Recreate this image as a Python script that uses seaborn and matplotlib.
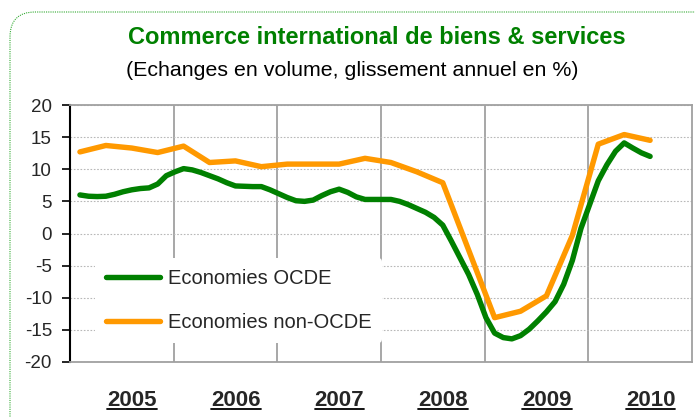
import numpy as np
import pandas as pd
import matplotlib
matplotlib.use("Agg")
import matplotlib.pyplot as plt
import seaborn as sns
from matplotlib import font_manager
from matplotlib.patches import FancyBboxPatch
from matplotlib.lines import Line2D

# ================= données =================
# OCDE : série mensuelle, de fév. 2005 à août 2010
ocde = [6.0, 5.8, 5.75, 5.8, 6.1, 6.5, 6.8, 7.0, 7.1, 7.7, 9.0, 9.6,
        10.1, 9.9, 9.5, 9.0, 8.5, 7.9, 7.4, 7.35, 7.3, 7.3, 6.8, 6.2,
        5.6, 5.1, 5.0, 5.2, 5.9, 6.5, 6.9, 6.4, 5.7, 5.3, 5.3, 5.3,
        5.3, 5.0, 4.5, 3.9, 3.3, 2.5, 1.3, -1.2, -3.8, -6.4, -9.5, -13.1,
        -15.5, -16.2, -16.4, -15.9, -14.9, -13.6, -12.2, -10.6, -7.9, -4.2, 0.8, 4.5,
        8.2, 10.7, 12.8, 14.1, 13.3, 12.55, 12.0]
# hors OCDE : série trimestrielle
non_ocde = [12.7, 13.7, 13.3, 12.6, 13.6, 11.05, 11.3, 10.4, 10.8, 10.8,
            10.8, 11.7, 11.05, 9.6, 7.9, -2.6, -13.1, -12.1, -9.7, -0.3,
            13.9, 15.4, 14.5]
annees = ["2005", "2006", "2007", "2008", "2009", "2010"]
# ===================================================================

x_ocde = [2005 + (m + 1.15) / 12 for m in range(len(ocde))]
x_non = [2005 + (3 * k + 1.15) / 12 for k in range(len(non_ocde))]

df = pd.concat([
    pd.DataFrame({"x": x_ocde, "val": ocde, "serie": "Economies OCDE"}),
    pd.DataFrame({"x": x_non, "val": non_ocde, "serie": "Economies non-OCDE"}),
])

sns.set_style("white")
plt.rcParams["font.family"] = ["Liberation Sans", "DejaVu Sans"]
plt.rcParams["axes.unicode_minus"] = False

# police étroite pour les années, si dispo
try:
    font_manager.findfont(font_manager.FontProperties(family="Liberation Sans Narrow", weight="bold"),
                          fallback_to_default=False)
    narrow = True
except Exception:
    narrow = False
an_family = "Liberation Sans Narrow" if narrow else "Liberation Sans"
an_size = 18.5 if narrow else 16

W, H = 695, 417
fig = plt.figure(figsize=(W / 100, H / 100), dpi=100)
ax = fig.add_axes([70 / W, 1 - 362 / H, 622 / W, 257 / H])

# cadre arrondi vert pointillé (en pouces)
cadre = FancyBboxPatch((0.10, -0.3), 7.5, (H - 12) / 100 + 0.3,
                       boxstyle="round,pad=0,rounding_size=0.25",
                       transform=fig.dpi_scale_trans, fill=False,
                       edgecolor="#33aa33", linewidth=0.8, linestyle=(0, (1, 1)))
fig.patches.append(cadre)

sns.lineplot(data=df, x="x", y="val", hue="serie",
             palette={"Economies OCDE": "#008000", "Economies non-OCDE": "#FF9900"},
             linewidth=3.9, ax=ax, zorder=3)

ax.set_xlim(2005, 2011)
ax.set_ylim(-20, 20)
ax.set_yticks(range(-20, 25, 5))
ax.set_xticks([int(a) + 0.6 for a in annees])
ax.set_xticklabels(annees)
ax.set_xticks(range(2006, 2011), minor=True)
ax.set_xlabel("")
ax.set_ylabel("")

ax.grid(axis="y", which="major", color="#b8b8b8", linestyle=(0, (1.5, 1.5)), linewidth=0.8)
ax.grid(axis="x", which="minor", color="#a0a0a0", linestyle="-", linewidth=1.3)
ax.grid(axis="x", which="major", visible=False)

for s in ["top", "right", "bottom"]:
    ax.spines[s].set_color("#a0a0a0")
    ax.spines[s].set_linewidth(1.3)
ax.spines["left"].set_color("black")
ax.spines["left"].set_linewidth(1.5)

ax.tick_params(axis="y", which="major", left=True, length=5.5, width=1.2,
               color="black", labelsize=13.5, pad=7.5)
ax.tick_params(axis="x", which="both", bottom=False, labelsize=an_size, pad=16.5)
for lab in ax.get_xticklabels():
    lab.set_fontweight("bold")
    lab.set_family(an_family)

leg = ax.legend(loc="upper left", bbox_to_anchor=(25 / 622, 104 / 257), borderaxespad=0,
                frameon=True, fontsize=14.5, handlelength=2.7, labelspacing=1.25,
                borderpad=0.55, handletextpad=0.35)
leg.get_frame().set_facecolor("white")
leg.get_frame().set_edgecolor("none")
leg.get_frame().set_alpha(1)
leg.set_zorder(5)
for h in leg.get_lines():
    h.set_linewidth(3.9)

fig.text(377 / W, 1 - 37 / H, "Commerce international de biens & services",
         ha="center", va="center", fontsize=17, fontweight="bold", color="#008000")
fig.text(352 / W, 1 - 70 / H, "(Echanges en volume, glissement annuel en %)",
         ha="center", va="center", fontsize=15.4, color="black")

# soulignement des années
fig.canvas.draw()
r = fig.canvas.get_renderer()
em = an_size * 100 / 72
for lab in ax.get_xticklabels():
    bb = lab.get_window_extent(r)
    y = bb.y0 + 0.21 * em - 2.5
    fig.add_artist(Line2D([bb.x0 / W, bb.x1 / W], [y / H, y / H],
                          transform=fig.transFigure, color="black", linewidth=1.3))

fig.savefig("out.png", dpi=100)
